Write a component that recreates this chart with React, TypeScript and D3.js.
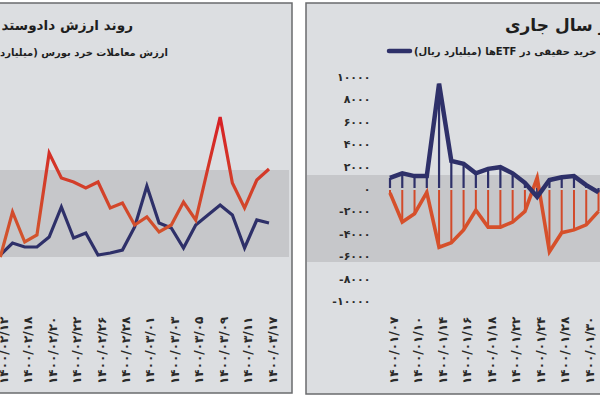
import * as d3 from 'd3';

// left panel: retail trading value, every trading day (labels on every other day)
const leftDates = [
  '۱۴۰۰/۰۲/۱۲', '', '۱۴۰۰/۰۲/۱۸', '', '۱۴۰۰/۰۲/۲۰', '', '۱۴۰۰/۰۲/۲۲', '',
  '۱۴۰۰/۰۲/۲۶', '', '۱۴۰۰/۰۲/۲۸', '', '۱۴۰۰/۰۳/۰۱', '', '۱۴۰۰/۰۳/۰۳', '',
  '۱۴۰۰/۰۳/۰۵', '', '۱۴۰۰/۰۳/۰۹', '', '۱۴۰۰/۰۳/۱۱', '', '۱۴۰۰/۰۳/۱۷',
];
const leftRed = [2300, 6800, 3800, 4500, 12700, 10200, 9800, 9200, 9800, 7200, 7700, 5500,
  6300, 4800, 5500, 7800, 6000, 11200, 16300, 9700, 7200, 10000, 11100];
const leftBlue = [2500, 3700, 3300, 3300, 4300, 7300, 4200, 4700, 2500, 2700, 3000, 5300,
  9400, 5700, 5200, 3200, 5500, 6500, 7500, 6500, 3200, 6000, 5700];

// right panel: real-person buy / sell in ETFs
const rightDates = [
  '۱۴۰۰/۰۱/۰۷', '', '۱۴۰۰/۰۱/۱۰', '', '۱۴۰۰/۰۱/۱۴', '', '۱۴۰۰/۰۱/۱۶', '',
  '۱۴۰۰/۰۱/۱۸', '', '۱۴۰۰/۰۱/۲۲', '', '۱۴۰۰/۰۱/۲۴', '', '۱۴۰۰/۰۱/۲۸', '',
  '۱۴۰۰/۰۱/۳۰', '',
];
const rightBuy = [1000, 1400, 1150, 1150, 9400, 2500, 2250, 1400, 1800, 1950, 1400, 550,
  -700, 800, 1050, 1150, 350, -300];
const rightSell = [-350, -2950, -2200, -300, -5200, -4800, -3650, -1900, -3400, -3400, -2950, -2000,
  1000, -5600, -3900, -3650, -3200, -2000];
const rightTicks = [10000, 8000, 6000, 4000, 2000, 0, -2000, -4000, -6000, -8000, -10000];

const font = 'DejaVu Sans, sans-serif';
const faDigits = (n: number) =>
  String(Math.abs(n)).replace(/\d/g, d => '۰۱۲۳۴۵۶۷۸۹'[+d]);

export default function App() {
  // left scales
  const lx = d3.scalePoint<number>().domain(d3.range(leftRed.length)).range([0.3, 269]);
  const ly = d3.scaleLinear().domain([0, 20000]).range([280, 80]);
  const lLine = d3.line<number>().x((_, i) => lx(i)!).y(d => ly(d));

  // right scales
  const rx = d3.scalePoint<number>().domain(d3.range(rightBuy.length)).range([390, 598.5]);
  const ry = d3.scaleLinear().domain([-10000, 10000]).range([301, 77]);
  const rLine = d3.line<number>().x((_, i) => rx(i)!).y(d => ry(d));

  const bg = '#dcdee1';
  const band = '#c6c7ca';
  const border = '#6a6b6d';
  const navy = '#2e3069';
  const red = '#d6502b';

  return (
    <svg width={600} height={400} style={{position: 'absolute', left: 0, top: 0}}
         fontFamily={font}>
      <defs>
        <linearGradient id="redGrad" gradientUnits="userSpaceOnUse" x1={0} y1={110} x2={0} y2={240}>
          <stop offset="0" stopColor="#d81c24"/>
          <stop offset="0.5" stopColor="#d33a29"/>
          <stop offset="1" stopColor="#d2552d"/>
        </linearGradient>
      </defs>
      <rect width={600} height={400} fill="#ffffff"/>

      {/* left panel */}
      <rect x={-2} y={3} width={294} height={390} fill={bg} stroke={border} strokeWidth={1.5}/>
      <rect x={0} y={170} width={289} height={87} fill={band}/>
      <text x={133} y={30} direction="rtl" textAnchor="start" fontSize={13.6} fontWeight="bold"
            fill="#1e1e1e">روند ارزش دادوستد</text>
      <text x={168} y={56} direction="rtl" textAnchor="start" fontSize={10} fontWeight="bold"
            fill="#1e1e1e">ارزش معاملات خرد بورس (میلیارد ریال)</text>
      <path d={lLine(leftBlue)!} fill="none" stroke={navy} strokeWidth={3.2}/>
      <path d={lLine(leftRed)!} fill="none" stroke="url(#redGrad)" strokeWidth={3.2}/>
      {leftDates.map((t, i) => t && (
        <text key={i} transform={`translate(${lx(i)! + 7.5},384) rotate(-90)`} fontSize={12}
              fontWeight="bold" letterSpacing={2.6} fill="#2a2a2a">{t}</text>
      ))}

      {/* right panel */}
      <rect x={306} y={3} width={300} height={391} fill={bg} stroke={border} strokeWidth={1.5}/>
      <rect x={307} y={175} width={293} height={87} fill={band}/>
      <text x={505} y={31} direction="rtl" textAnchor="end" fontSize={17} fontWeight="bold"
            fill="#1e1e1e">روند ارزش خرید حقیقی در سال جاری</text>
      <line x1={389} x2={410} y1={51} y2={51} stroke={navy} strokeWidth={4.5} strokeLinecap="round"/>
      <text x={414} y={55} direction="rtl" textAnchor="end" fontSize={10} fontWeight="bold"
            fill="#1e1e1e">میزان خرید حقیقی در ETFها (میلیارد ریال)</text>
      {rightTicks.map(v => (
        <text key={v} x={370.5} y={ry(v) + 4} textAnchor="end" fontSize={11} fontWeight="bold"
              letterSpacing={5.5} fill="#2a2a2a">{(v < 0 ? '-' : '') + faDigits(v)}</text>
      ))}
      {rightSell.map((v, i) => (
        <line key={'s' + i} x1={rx(i)} x2={rx(i)} y1={ry(0) + 1} y2={ry(v)} stroke="#d24a2a" strokeWidth={2}/>
      ))}
      {rightBuy.map((v, i) => (
        <line key={'b' + i} x1={rx(i)} x2={rx(i)} y1={ry(0) - 1} y2={ry(v)} stroke={navy} strokeWidth={2.2}/>
      ))}
      <path d={rLine(rightSell)!} fill="none" stroke={red} strokeWidth={3.6}/>
      <path d={rLine(rightBuy)!} fill="none" stroke={navy} strokeWidth={4.5}/>
      {rightDates.map((t, i) => t && (
        <text key={i} transform={`translate(${rx(i)! + 7.5},384) rotate(-90)`} fontSize={12}
              fontWeight="bold" letterSpacing={2.6} fill="#2a2a2a">{t}</text>
      ))}
    </svg>
  );
}
